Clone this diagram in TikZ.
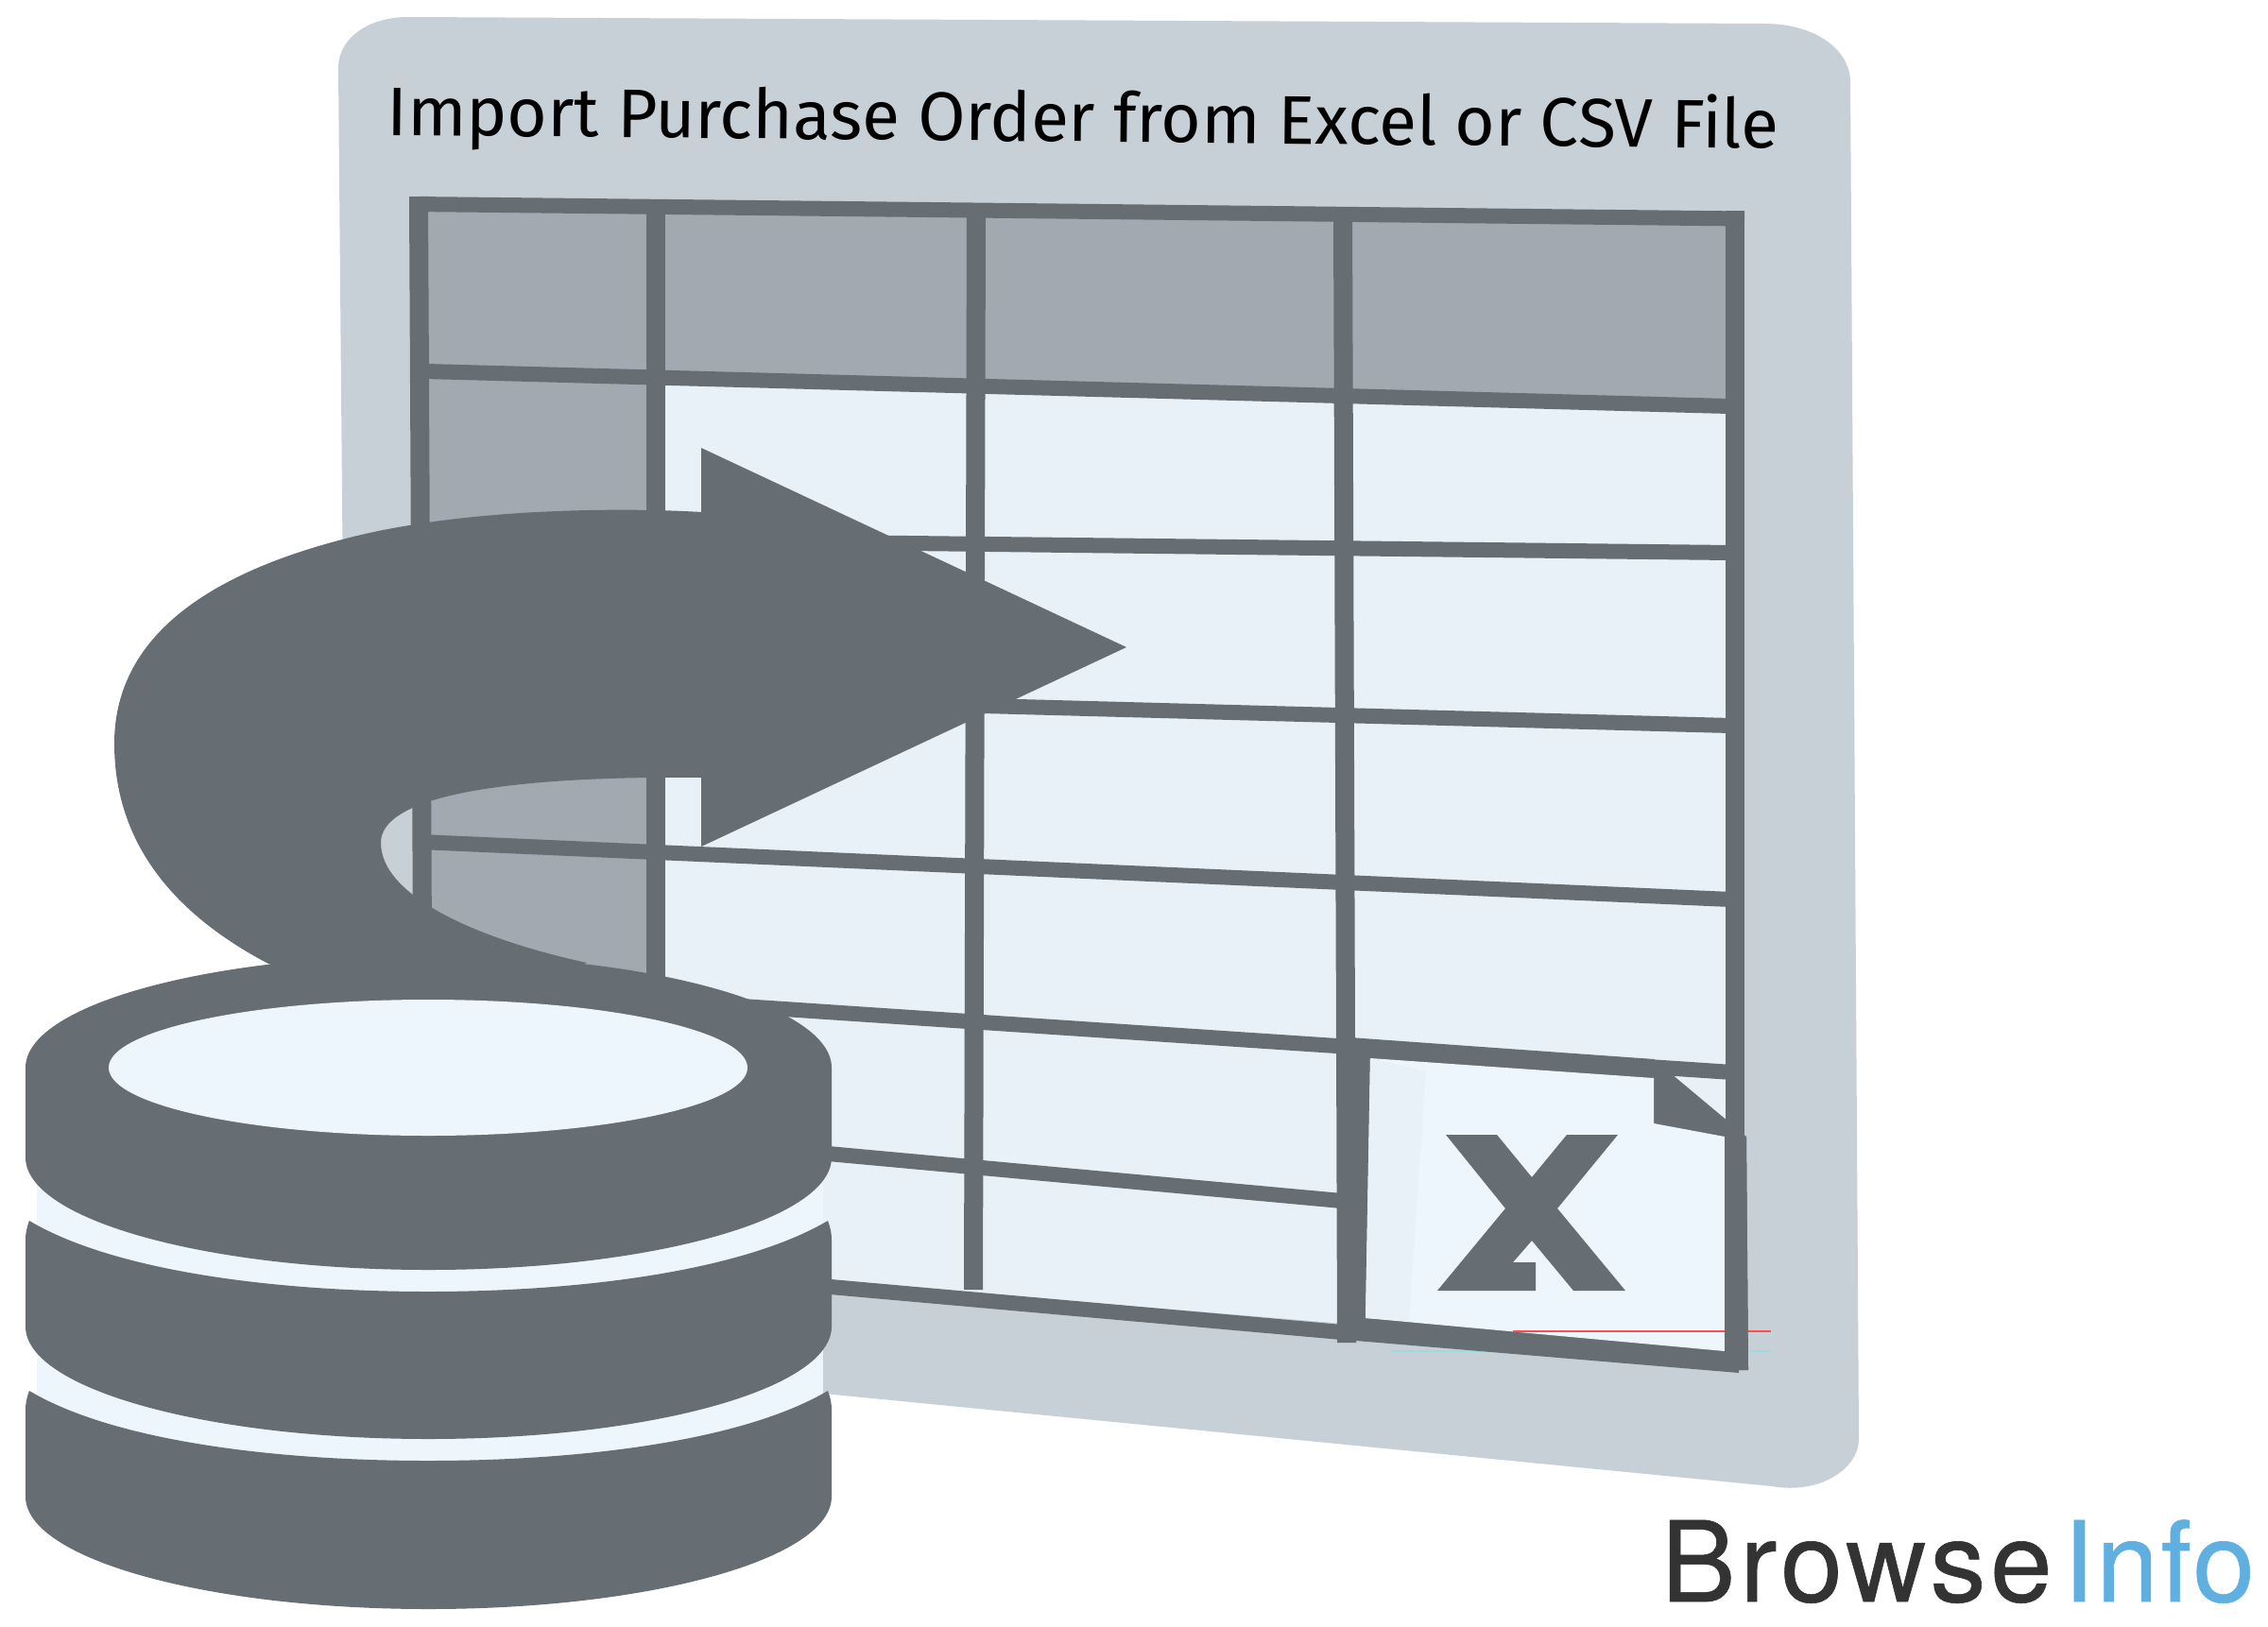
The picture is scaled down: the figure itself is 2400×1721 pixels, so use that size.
\documentclass[tikz,border=0pt]{standalone}
\usepackage{fontspec}
\usepackage{graphicx}
\newfontfamily\titlefont{Fira Sans}
\newfontfamily\brandfont[FakeBold=0.5]{TeX Gyre Heros}
\usetikzlibrary{positioning}
\definecolor{framegray}{HTML}{666D73}
\definecolor{cardgray}{HTML}{C7D0D6}
\definecolor{headgray}{HTML}{A2A9B0}
\definecolor{cellblue}{HTML}{E9F1F8}
\definecolor{paleblue}{HTML}{EEF6FD}
\definecolor{brandblue}{HTML}{5FB0E0}
\definecolor{branddark}{HTML}{333333}
\tikzset{
    rowline/.style={draw=framegray, line width=1.6mm},
    colline/.style={draw=framegray, line width=2mm},
    solidpart/.style={fill=framegray, draw=none},
    brandtext/.style={inner sep=0pt, anchor=base west, font=\brandfont\fontsize{33.6}{40}\selectfont},
}

\begin{document}
\begin{tikzpicture}[x=0.01cm, y=-0.01cm]
    \useasboundingbox (0,0) rectangle (2400,1721);

    % card
    \fill[cardgray] (358,72) .. controls (358,40) and (390,18) .. (432,18) -- (1867,25)
        .. controls (1920,25) and (1958,52) .. (1958,87) -- (1967,1523)
        .. controls (1967,1555) and (1925,1582) .. (1875,1573) -- (872,1475) -- (370,1430) -- cycle;

    % cells
    \fill[cellblue] (443,216) -- (1836,231) -- (1836,1435) -- (443,1320) -- cycle;
    \fill[headgray] (443,216) -- (1836,231) -- (1836,430) -- (694,400) -- (694,1060) -- (447,1060) -- cycle;
    \draw[cardgray!80!cyan, line width=0.2mm] (1471,1430) -- (1874,1430);

    % grid
    \draw[rowline] (438,216) -- (1846,231.5);
    \draw[rowline] (450,393) -- (1830,430);
    \draw[rowline] (700,572) -- (1832,585);
    \draw[rowline] (700,738) -- (1832,768);
    \draw[rowline] (444,891) -- (1832,952);
    \draw[rowline] (740,1062) -- (1834,1135);
    \draw[rowline] (800,1214) -- (1420,1271);
    \draw[rowline] (800,1355) -- (1420,1410);
    \draw[colline] (443,208) -- (447,1000);
    \draw[colline] (694,222) -- (694,1060);
    \draw[colline] (1033,225) -- (1030,1365);
    \draw[colline] (1421,225) -- (1424,1105);
    \draw[colline] (1836,223) -- (1836,1210);

    % heavy edge of the file sheet
    \fill[solidpart] (1414,1097) -- (1750,1121) -- (1848,1203) -- (1850,1450) -- (1840,1450) -- (1840,1453)
        -- (1435,1419) -- (1435,1421) -- (1415,1421) -- cycle;
    \fill[paleblue] (1450,1120) -- (1750,1141) -- (1750,1189) -- (1825,1203) -- (1825,1430) -- (1445,1395) -- cycle;
    \fill[cellblue] (1450,1120) -- (1509,1134) -- (1491,1398) -- (1445,1395) -- cycle;
    \draw[red!70, line width=0.2mm] (1601,1409) -- (1874,1409);
    \fill[solidpart] (1825,1203) -- (1848,1203) -- (1850,1450) -- (1825,1450) -- cycle;
    \fill[solidpart] (1530,1201) -- (1584,1201) -- (1621,1246) -- (1658,1201) -- (1712,1201) -- (1648,1279)
        -- (1720,1366) -- (1665,1366) -- (1621,1313) -- (1601,1336) -- (1625,1336) -- (1625,1366)
        -- (1521,1366) -- (1593,1279) -- cycle;

    % import arrow
    \fill[solidpart] (742,474) -- (1192,685) -- (742,896) -- (742,823)
        .. controls (640,822) and (403,825) .. (403,892)
        .. controls (403,950) and (510,995) .. (621,1019) -- (450,1080) -- (284,1020)
        .. controls (170,960) and (121,880) .. (121,787)
        .. controls (121,680) and (210,610) .. (366,570)
        .. controls (500,535) and (680,538) .. (742,542) -- cycle;

    % database
    \fill[paleblue] (39,1230) rectangle (871,1550);
    \fill[solidpart] (27,1130) arc[x radius=426.5, y radius=119, start angle=180, end angle=360]
        -- (880,1225) arc[x radius=426.5, y radius=119, start angle=0, end angle=180] -- cycle;
    \fill[paleblue] (453,1130) ellipse[x radius=338, y radius=72];
    \fill[solidpart] (31,1292) .. controls (120,1345) and (290,1367) .. (453,1367)
        .. controls (616,1367) and (786,1345) .. (876,1292) .. controls (879,1300) and (880,1306) .. (880,1312)
        -- (880,1404) arc[x radius=426.5, y radius=119, start angle=0, end angle=180]
        -- (27,1312) .. controls (27,1306) and (28,1300) .. (31,1292) -- cycle;
    \fill[solidpart] (31,1472) .. controls (120,1525) and (290,1546) .. (453,1546)
        .. controls (616,1546) and (786,1525) .. (876,1472) .. controls (879,1480) and (880,1486) .. (880,1492)
        -- (880,1584) arc[x radius=426.5, y radius=119, start angle=0, end angle=180]
        -- (27,1492) .. controls (27,1486) and (28,1480) .. (31,1472) -- cycle;

    % labels
    \node[inner sep=0pt, anchor=base west, rotate=-0.55] (title) at (409,143)
        {\resizebox{14.72cm}{!}{\titlefont Import Purchase Order from Excel or CSV File}};
    \node[brandtext, text=branddark] (browse) at (1757,1695) {\addfontfeature{LetterSpace=3.8}Browse};
    \node[brandtext, text=brandblue, right=0.1cm of browse.base east, anchor=base west] (info) {\addfontfeature{LetterSpace=2}Info};
\end{tikzpicture}
\end{document}
